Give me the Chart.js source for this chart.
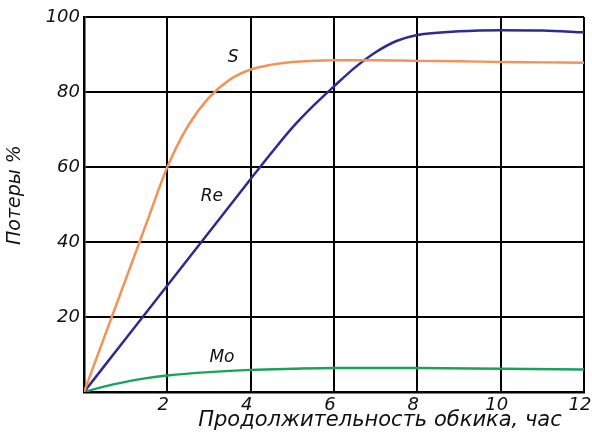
<!DOCTYPE html>
<html><head><meta charset="utf-8">
<script src="https://cdn.jsdelivr.net/npm/chart.js@4/dist/chart.umd.min.js"></script>
<style>html,body{margin:0;padding:0;background:#fff;}#wrap{width:592px;height:434px;position:relative;}</style>
</head><body><div id="wrap"><canvas id="c" width="592" height="434"></canvas></div>
<script>
const xS = [0, 0.5, 1, 1.5, 2, 2.5, 3, 3.5, 4, 4.5, 5, 6, 7, 8, 9, 10, 11, 12];
const yS = [0, 15, 30, 45, 60, 71, 78.5, 83.3, 86, 87.3, 88, 88.5, 88.5, 88.3, 88.2, 88, 87.9, 87.8];
const xRe = [0, 1, 2, 3, 4, 4.5, 5, 5.5, 6, 6.5, 7, 7.5, 8, 9, 10, 11, 12];
const yRe = [0, 14.2, 28.4, 42.6, 56.8, 63.8, 70.5, 76.3, 81.5, 86.5, 90.6, 93.6, 95.2, 96.2, 96.5, 96.4, 95.9];
const xMo = [0, 0.5, 1, 1.5, 2, 3, 4, 5, 6, 8, 10, 12];
const yMo = [0, 1.5, 2.7, 3.7, 4.4, 5.3, 5.9, 6.2, 6.4, 6.4, 6.2, 6.0];
const xTicks = [2, 4, 6, 8, 10, 12];
const yTicks = [20, 40, 60, 80, 100];
const seriesNames = ['S', 'Re', 'Mo'];
const xTitle = 'Продолжительность обкика, час';
const yTitle = 'Потеры %';

const pts = (xs, ys) => xs.map((x, i) => ({x: x, y: ys[i]}));
const FONT = '"DejaVu Sans", Verdana, sans-serif';

const labelPlugin = {
  id: 'curveLabels',
  afterDatasetsDraw(chart) {
    const {ctx, scales: {x, y}} = chart;
    const labels = [
      {t: seriesNames[0], x: 3.58, y: 89.3},
      {t: seriesNames[1], x: 3.07, y: 52},
      {t: seriesNames[2], x: 3.31, y: 9.3}
    ];
    ctx.save();
    ctx.fillStyle = '#111';
    ctx.font = 'oblique 17px ' + FONT;
    ctx.textAlign = 'center';
    ctx.textBaseline = 'middle';
    labels.forEach(l => ctx.fillText(l.t, x.getPixelForValue(l.x), y.getPixelForValue(l.y)));
    ctx.font = 'oblique 21px ' + FONT;
    ctx.fillText(xTitle, 380, 421);
    ctx.translate(15, 195);
    ctx.rotate(-Math.PI / 2);
    ctx.font = 'oblique 19px ' + FONT;
    ctx.fillText(yTitle, 0, 0);
    ctx.restore();
  }
};

new Chart(document.getElementById('c'), {
  type: 'line',
  data: {
    datasets: [
      {label: seriesNames[0], data: pts(xS, yS), borderColor: '#F0945A', borderWidth: 2.5, pointRadius: 0, cubicInterpolationMode: 'monotone', fill: false},
      {label: seriesNames[1], data: pts(xRe, yRe), borderColor: '#2E2B8E', borderWidth: 2.5, pointRadius: 0, cubicInterpolationMode: 'monotone', fill: false},
      {label: seriesNames[2], data: pts(xMo, yMo), borderColor: '#17A25E', borderWidth: 2.5, pointRadius: 0, cubicInterpolationMode: 'monotone', fill: false}
    ]
  },
  options: {
    responsive: false,
    animation: false,
    layout: {padding: {top: 17, right: 8, left: 0, bottom: 0}},
    plugins: {legend: {display: false}, tooltip: {enabled: false}},
    scales: {
      x: {
        type: 'linear', min: 0, max: 12,
        afterBuildTicks: s => { s.ticks = [0].concat(xTicks).map(v => ({value: v})); },
        afterFit: s => { s.height = 42; s.paddingRight = 0; s.paddingLeft = 0; },
        grid: {color: '#000', lineWidth: 2, drawTicks: false},
        border: {display: true, color: '#000', width: 2.5},
        ticks: {
          color: '#111', padding: 3, maxRotation: 0, autoSkip: false, labelOffset: -4,
          font: {family: FONT, style: 'oblique', size: 18},
          callback: v => (v === 0 ? '' : String(v))
        }
      },
      y: {
        type: 'linear', min: 0, max: 100,
        afterBuildTicks: s => { s.ticks = [0].concat(yTicks).map(v => ({value: v})); },
        afterFit: s => { s.width = 84; s.paddingTop = 0; s.paddingBottom = 0; },
        grid: {color: '#000', lineWidth: 2, drawTicks: false},
        border: {display: true, color: '#000', width: 2.5},
        ticks: {
          color: '#111', padding: 4,
          font: {family: FONT, style: 'oblique', size: 18},
          callback: v => (v === 0 ? '' : String(v))
        }
      }
    }
  },
  plugins: [labelPlugin]
});
</script></body></html>
